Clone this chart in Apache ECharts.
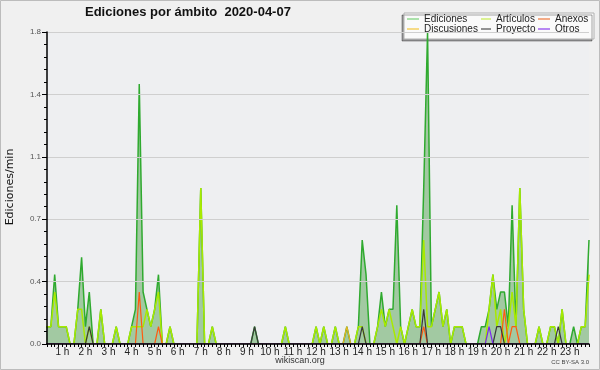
<!DOCTYPE html>
<html><head><meta charset="utf-8">
<script src="https://cdn.jsdelivr.net/npm/echarts@6/dist/echarts.min.js"></script>
<style>html,body{margin:0;padding:0;background:#f0f0f0}#c{width:600px;height:370px}</style>
</head><body><div id="c"></div>
<script>
// 10-minute bins from 00:00 (index j = minutes/10), values in ediciones/min
const hourTicks = [1,2,3,4,5,6,7,8,9,10,11,12,13,14,15,16,17,18,19,20,21,22,23];
const ediciones = [
0.1,0.1,0.1,0.1,0.4,0.1,0.1,0.1,0,0,0.2,0.5,
0.1,0.3,0,0,0.2,0,0,0,0.1,0,0,0,
0.1,0.2,1.5,0.3,0.2,0.1,0.2,0.4,0,0,0.1,0,
0,0,0,0,0,0,0.9,0,0,0.1,0,0,
0,0,0,0,0,0,0,0,0.1,0,0,0,
0,0,0,0,0.1,0,0,0,0,0,0,0,
0.1,0,0.1,0,0,0.1,0,0,0.1,0,0,0.1,
0.6,0.4,0,0,0.1,0.3,0.1,0.2,0.2,0.8,0.1,0,
0.1,0.2,0.1,0.1,0.9,1.8,0.1,0.2,0.3,0.1,0.2,0,
0.1,0.1,0.1,0,0,0,0,0.1,0.1,0.2,0.4,0.2,
0.3,0.3,0.1,0.8,0.1,0.9,0.2,0,0,0,0.1,0,
0,0.1,0.1,0,0.2,0,0,0.1,0,0.1,0.1,0.6];
const articulos = [
0.1,0.1,0.1,0.1,0.3,0.1,0.1,0.1,0,0,0.2,0.2,
0,0.1,0,0,0.2,0,0,0,0.1,0,0,0,
0.1,0.1,0.1,0.1,0.2,0.1,0.2,0.3,0,0,0.1,0,
0,0,0,0,0,0,0.9,0,0,0.1,0,0,
0,0,0,0,0,0,0,0,0,0,0,0,
0,0,0,0,0.1,0,0,0,0,0,0,0,
0.1,0,0.1,0,0,0.1,0,0,0,0,0,0.1,
0.1,0,0,0,0.1,0.2,0.1,0.2,0.1,0,0.1,0,
0.1,0.2,0.1,0.1,0.6,0.1,0.1,0.2,0.3,0.1,0.2,0,
0.1,0.1,0.1,0,0,0,0,0,0,0.2,0.4,0.1,
0.2,0,0.1,0.3,0.1,0.9,0.2,0,0,0,0.1,0,
0,0.1,0.1,0,0.2,0,0,0,0,0.1,0.1,0.4];
const anexos = [
0,0,0,0,0,0,0,0,0,0,0,0,
0,0,0,0,0,0,0,0,0,0,0,0,
0,0,0.3,0,0,0,0,0.1,0,0,0,0,
0,0,0,0,0,0,0,0,0,0,0,0,
0,0,0,0,0,0,0,0,0,0,0,0,
0,0,0,0,0,0,0,0,0,0,0,0,
0,0,0,0,0,0,0,0,0,0,0,0,
0,0,0,0,0,0,0,0,0,0,0,0,
0,0,0,0,0.1,0,0,0,0,0,0,0,
0,0,0,0,0,0,0,0,0,0,0,0,
0,0.2,0,0.1,0.1,0,0,0,0,0,0,0,
0,0,0,0,0,0,0,0,0,0,0,0];
const discusiones = [
0,0,0,0,0,0,0,0,0,0,0,0,
0,0,0,0,0,0,0,0,0,0,0,0,
0,0,0,0,0,0,0,0,0,0,0,0,
0,0,0,0,0,0,0,0,0,0,0,0,
0,0,0,0,0,0,0,0,0,0,0,0,
0,0,0,0,0,0,0,0,0,0,0,0,
0,0,0,0,0,0,0,0,0.1,0,0,0,
0,0,0,0,0,0,0,0,0,0,0,0,
0,0,0,0,0,0,0,0,0,0,0,0,
0,0,0,0,0,0,0,0,0,0,0,0,
0,0,0,0,0,0,0,0,0,0,0,0,
0,0,0,0,0,0,0,0,0,0,0,0];
const proyecto = [
0,0,0,0,0,0,0,0,0,0,0,0,
0,0.1,0,0,0,0,0,0,0,0,0,0,
0,0,0,0,0,0,0,0,0,0,0,0,
0,0,0,0,0,0,0,0,0,0,0,0,
0,0,0,0,0,0,0,0,0.1,0,0,0,
0,0,0,0,0,0,0,0,0,0,0,0,
0,0,0,0,0,0,0,0,0,0,0,0,
0.1,0,0,0,0,0,0,0,0,0,0,0,
0,0,0,0,0.2,0,0,0,0,0,0,0,
0,0,0,0,0,0,0,0,0,0,0,0.1,
0.1,0,0,0,0,0,0,0,0,0,0,0,
0,0,0,0.1,0,0,0,0,0,0,0,0];
const otros = [
0,0,0,0,0,0,0,0,0,0,0,0,
0,0,0,0,0,0,0,0,0,0,0,0,
0,0,0,0,0,0,0,0,0,0,0,0,
0,0,0,0,0,0,0,0,0,0,0,0,
0,0,0,0,0,0,0,0,0,0,0,0,
0,0,0,0,0,0,0,0,0,0,0,0,
0,0,0,0,0,0,0,0,0,0,0,0,
0,0,0,0,0,0,0,0,0,0,0,0,
0,0,0,0,0,0,0,0,0,0,0,0,
0,0,0,0,0,0,0,0,0,0.1,0,0,
0,0,0,0,0,0,0,0,0,0,0,0,
0,0,0,0,0,0,0,0,0,0,0,0];

const FONT = 'Liberation Sans';
const pts = arr => arr.map((v, j) => [j, v]);
const tickVals = [];
for (let j = 2; j <= 143; j++) tickVals.push(j);
const labelVals = hourTicks.map(h => h * 6);

function lineSeries(name, data, color, width, z) {
  return { name, type: 'line', data: pts(data), showSymbol: false, symbol: 'none',
    lineStyle: { color, width }, itemStyle: { color }, z, animation: false };
}

const chart = echarts.init(document.getElementById('c'), null, { renderer: 'canvas' });
const legendCommon = { orient: 'vertical', icon: 'rect', itemWidth: 12, itemHeight: 1.5, itemGap: 0,
  textStyle: { fontFamily: FONT, fontSize: 10, color: '#222', lineHeight: 10 }, padding: 0, selectedMode: false };
chart.setOption({
  backgroundColor: '#f0f0f0',
  animation: false,
  title: { text: 'Ediciones por ámbito  2020-04-07', left: 85, top: 6, padding: 0,
    textStyle: { fontFamily: FONT, fontSize: 13, fontWeight: 'bold', color: '#111' } },
  grid: { left: 47, right: 11, top: 32, bottom: 26, backgroundColor: '#eeeff1', show: true, borderWidth: 0 },
  legend: [
    Object.assign({}, legendCommon, { left: 407, top: 14, data: [
      { name: 'Ediciones', itemStyle: { color: '#90d890' } },
      { name: 'Discusiones', itemStyle: { color: '#f5d060' } } ] }),
    Object.assign({}, legendCommon, { left: 481, top: 14, itemWidth: 10, data: [
      { name: 'Artículos', itemStyle: { color: '#d0ee70' } },
      { name: 'Proyecto', itemStyle: { color: '#707070' } } ] }),
    Object.assign({}, legendCommon, { left: 538, top: 14, data: [
      { name: 'Anexos', itemStyle: { color: '#f09060' } },
      { name: 'Otros', itemStyle: { color: '#a060f0' } } ] })
  ],
  xAxis: {
    type: 'value', min: 2, max: 143, z: 10,
    axisLine: { show: true, onZero: false, lineStyle: { color: '#000', width: 1.5 } },
    axisTick: { show: true, customValues: tickVals, length: 3, lineStyle: { color: '#000' } },
    axisLabel: { customValues: labelVals, formatter: v => (v / 6) + ' h', margin: 3,
      fontFamily: FONT, fontSize: 10, color: '#222' },
    splitLine: { show: false }
  },
  yAxis: {
    type: 'value', min: 0, max: 1.8, interval: 0.36, z: 10,
    axisLine: { show: true, lineStyle: { color: '#000', width: 1.5 } },
    axisTick: { show: true, length: 5, lineStyle: { color: '#000' } },
    minorTick: { show: true, splitNumber: 5, length: 3, lineStyle: { color: '#000' } },
    axisLabel: { formatter: v => v.toFixed(1), fontFamily: FONT, fontSize: 8, color: '#555', margin: 6 },
    splitLine: { show: true, lineStyle: { color: '#cfcfcf', width: 1 } }
  },
  series: [
    Object.assign(lineSeries('Ediciones', ediciones, '#2faa2f', 1.5, 2),
      { areaStyle: { color: '#a2c9a2', opacity: 1 } }),
    lineSeries('Artículos', articulos, '#a8ea00', 1.5, 3),
    lineSeries('Anexos', anexos, '#ff5a10', 1.2, 4),
    lineSeries('Discusiones', discusiones, '#e8b420', 1.2, 5),
    lineSeries('Proyecto', proyecto, '#3a3a3a', 1.2, 6),
    lineSeries('Otros', otros, '#7a28f0', 1.2, 7)
  ],
  graphic: [
    { type: 'rect', shape: { x: 404, y: 13, width: 190, height: 26 }, z: 0,
      style: { fill: '#fafafa', stroke: '#b0b0b0', lineWidth: 1, shadowColor: 'rgba(0,0,0,0.35)', shadowOffsetX: -2, shadowOffsetY: 2, shadowBlur: 0 } },
    { type: 'text', rotation: Math.PI / 2, x: 10, y: 187, z: 10,
      style: { text: 'Ediciones/min', font: '11px "DejaVu Sans"', fill: '#111', textAlign: 'center', textVerticalAlign: 'middle' } },
    { type: 'text', x: 300, y: 361, z: 10,
      style: { text: 'wikiscan.org', font: '9px "Liberation Sans"', fill: '#333', textAlign: 'center', textVerticalAlign: 'middle' } },
    { type: 'text', x: 589, y: 362, z: 10,
      style: { text: 'CC BY-SA 3.0', font: '6px "Liberation Sans"', fill: '#444', textAlign: 'right', textVerticalAlign: 'middle' } },
    { type: 'rect', shape: { x: 0.5, y: 0.5, width: 599, height: 369 }, z: 20, silent: true,
      style: { fill: 'none', stroke: '#bcbcbc', lineWidth: 1 } }
  ]
});
</script></body></html>
